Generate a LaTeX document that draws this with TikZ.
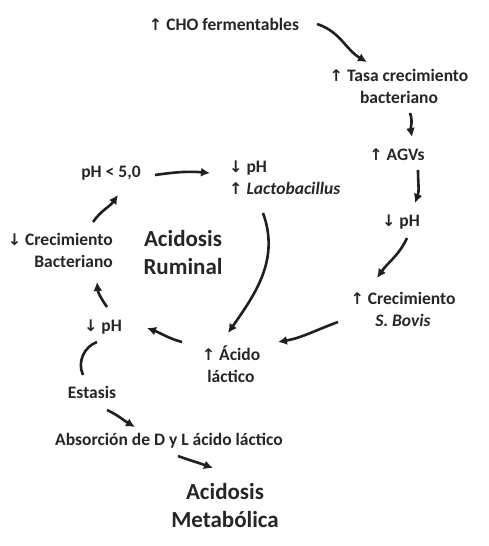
\documentclass[tikz,border=0pt]{standalone}
\usepackage{fontspec}
\setmainfont{Carlito}
\newfontfamily\arrfont{DejaVu Sans}
\usetikzlibrary{arrows.meta,calc}
\newcommand{\myup}{{\arrfont\fontsize{16}{16}\selectfont ↑}}
\newcommand{\mydn}{{\arrfont\fontsize{16}{16}\selectfont ↓}}
\tikzset{
  lbl/.style={inner sep=0pt, font=\bfseries\fontsize{17.5}{22}\selectfont, text=black!85, align=center},
  big/.style={inner sep=0pt, font=\bfseries\fontsize{23}{28}\selectfont, text=black!85, align=center},
  arr/.style={line width=2.6pt, draw=black!88, -{Latex[length=9pt,width=9pt]}},
  plain/.style={line width=2.6pt, draw=black!88}
}
\begin{document}
\begin{tikzpicture}[x=1pt,y=1pt]
\useasboundingbox (0,0) rectangle (489,-546);
\fill[white] (0,0) rectangle (489,-546);
\node[lbl] (n1) at (224,-24) {\myup\ CHO fermentables};
\node[lbl] (n2) at (399,-86) {\myup\ Tasa crecimiento\\bacteriano};
\node[lbl] (n3) at (397,-155) {\myup\ AGVs};
\node[lbl] (n4) at (401,-222) {\mydn\ pH};
\node[lbl] (n5) at (403,-309) {\myup\ Crecimiento\\\textit{S. Bovis}};
\node[lbl] (n6) at (231,-364) {\myup\ Ácido\\láctico};
\node[lbl] (n7) at (103,-327) {\mydn\ pH};
\node[lbl, anchor=east, align=right] (n8) at (113,-250) {\mydn\ Crecimiento\\Bacteriano};
\node[lbl] (n9) at (111,-173) {pH < 5,0};
\node[lbl, anchor=west, align=left] (n10) at (229,-178) {\mydn\ pH\\\myup\ \textit{Lactobacillus}};
\node[big] (n11) at (183,-253) {Acidosis\\Ruminal};
\node[lbl] (n12) at (92,-392) {Estasis};
\node[lbl] (n13) at (169,-441) {Absorción de D y L ácido láctico};
\node[big] (n14) at (225,-506) {Acidosis\\Metabólica};

\draw[arr] ($(n1.center)+(93,0)$) to[out=-18,in=150] ($(n2.center)+(-32,24)$);
\draw[arr] ($(n2.center)+(11,-27)$) to[out=-70,in=100] ($(n3.center)+(15,18)$);
\draw[arr] ($(n3.center)+(21,-15)$) to[out=-90,in=70] ($(n4.center)+(14,19)$);
\draw[arr] ($(n4.center)+(6,-16)$) to[out=-115,in=55] ($(n5.center)+(-26,31)$);
\draw[arr] ($(n5.center)+(-65,-13)$) to[out=200,in=10] ($(n6.center)+(47,22)$);
\draw[arr] ($(n6.center)+(-49,22)$) to[out=165,in=-20] ($(n7.center)+(44,-1)$);
\draw[arr] ($(n7.center)+(4,20)$) to[out=125,in=-85] ($(n8.east)+(-16,-32)$);
\draw[arr] ($(n8.east)+(-20,28)$) to[out=55,in=-125] ($(n9.center)+(7,-22)$);
\draw[arr] ($(n9.center)+(44,-2)$) to[out=8,in=175] ($(n10.west)+(-19,5)$);
\draw[arr] ($(n10.west)+(34,-35)$) to[out=-70,in=55] ($(n6.center)+(-3,31)$);
\draw[plain] ($(n12.center)+(-9,17)$) to[out=115,in=-160] ($(n7.center)+(-6,-15)$);
\draw[arr] ($(n12.center)+(15,-18)$) to[out=-25,in=150] ($(n13.center)+(-34,14)$);
\draw[arr] ($(n13.center)+(9,-15)$) to[out=-20,in=160] ($(n14.center)+(-12,38)$);
\end{tikzpicture}
\end{document}
